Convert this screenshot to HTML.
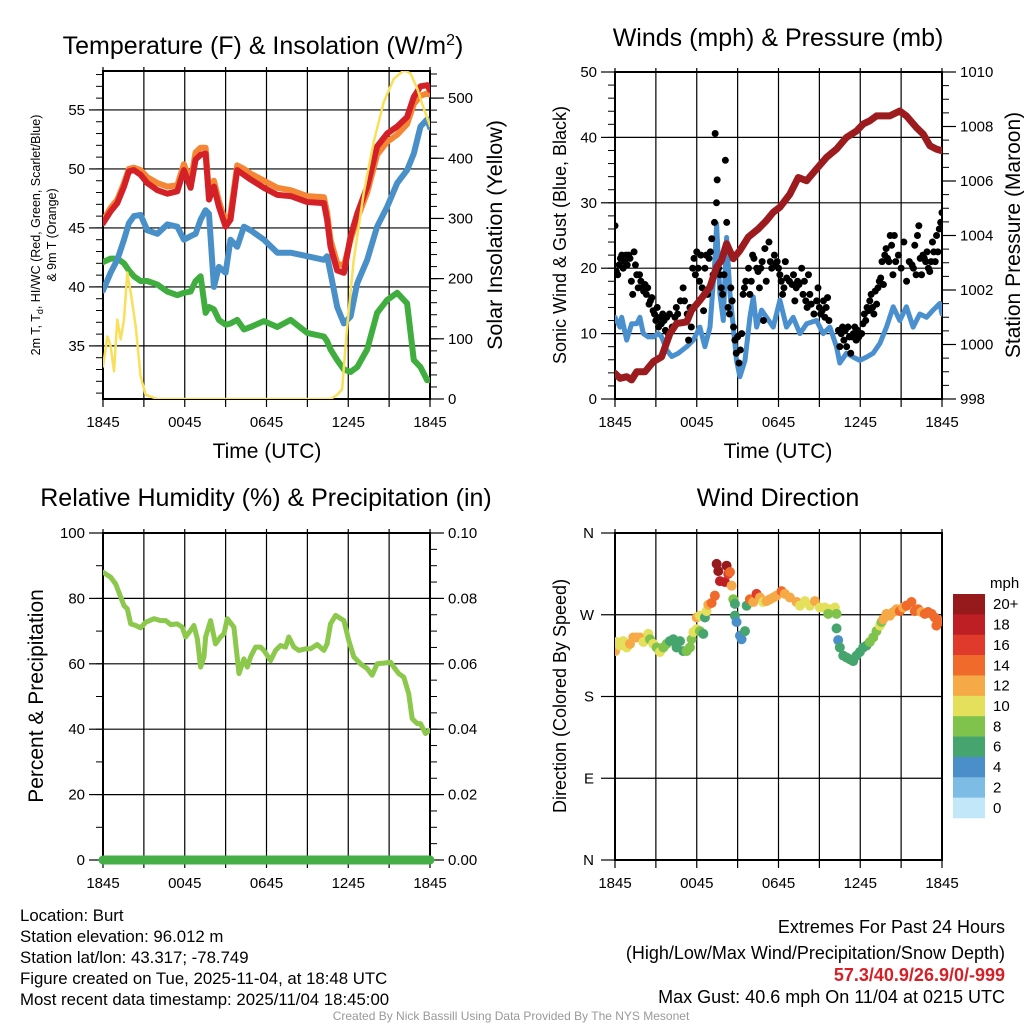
<!DOCTYPE html>
<html><head><meta charset="utf-8"><style>
html,body{margin:0;padding:0;background:#fff;}
svg{display:block;font-family:"Liberation Sans",sans-serif;}
</style></head><body>
<svg id="fig" width="1024" height="1024" viewBox="0 0 1024 1024" xmlns="http://www.w3.org/2000/svg">
<rect width="1024" height="1024" fill="#fff"/>
</svg>
<script>
// ---------- DATA ----------
const xTickLabels = ['1845','0045','0645','1245','1845'];
// Panel 1: temperature
const tHours = [0,0.56,1.05,1.54,1.9,2.27,2.76,3.25,3.99,4.72,5.45,5.94,6.43,6.8,7.16,7.53,7.78,8.14,8.51,9.0,9.36,9.85,10.34,10.83,11.81,12.79,13.77,14.99,16.21,16.45,16.7,17.19,17.68,18.17,18.66,19.39,20.12,20.86,21.59,22.32,22.81,23.3,23.79,24];
const redT = [45.4,46.4,47.1,48.5,49.8,49.9,49.5,48.8,48.2,47.9,48.1,49.9,48.4,50.8,51.2,51.3,47.4,48.5,46.8,45.1,45.7,49.9,49.5,49.1,48.4,47.8,47.7,47.2,47.1,45.7,43.4,41.4,41.2,44.3,46.2,48.5,51.9,53.0,53.6,54.4,56.1,57.0,57.1,56.7];
const orangeT = [45.6,46.7,47.4,48.8,50.0,50.1,49.9,49.3,48.8,48.5,48.6,50.4,48.9,51.4,51.8,51.8,47.9,49.0,47.3,45.4,46.2,50.3,50.0,49.6,49.0,48.4,48.2,47.7,47.6,46.3,44.0,42.0,41.8,44.0,45.8,48.0,51.2,52.3,52.9,53.8,55.5,56.2,56.4,56.3];
const blueTd = [39.7,41.2,42.3,44.0,45.4,46.0,46.1,44.8,44.5,45.3,45.1,44.0,44.3,44.5,45.7,46.5,46.2,40.0,41.7,41.2,44.0,43.4,45.1,44.8,44.0,42.9,42.9,42.6,42.3,42.6,41.2,38.3,36.9,37.5,40.3,42.3,45.1,46.8,48.8,49.9,51.3,53.6,54.2,53.5];
const greenHI = [42.1,42.4,42.4,42.0,41.4,40.9,40.5,40.5,40.2,39.6,39.3,39.5,39.6,40.5,40.9,37.8,38.3,38.1,37.2,36.8,36.9,37.2,36.4,36.6,37.1,36.6,37.2,36.1,35.8,35.4,34.7,33.8,33.0,32.8,33.2,34.7,37.8,38.9,39.5,38.6,33.8,33.2,32.1,32.1];
const solarHours = [0,0.32,0.56,0.81,1.05,1.3,1.54,1.78,2.03,2.4,2.76,3.13,3.99,16.7,17.19,17.55,17.92,18.41,19.14,19.87,20.6,21.34,22.08,22.57,23.06,23.55,24];
const solarW = [54,104,88,46,132,99,132,210,177,121,38,7,0,0,7,16,121,232,343,427,493,532,546,541,516,482,454];
// Panel 2: wind & pressure
const pHours = [0,0.37,0.86,1.22,1.59,2.2,2.81,3.42,4.03,4.52,5.26,5.62,6.23,6.97,7.46,7.82,8.19,8.68,9.17,9.78,10.51,11.12,11.61,12.1,12.84,13.45,14.06,14.79,15.53,16.26,16.99,17.73,18.22,18.7,19.19,20.17,20.9,21.39,22.13,22.62,23.11,23.59,24];
const pressureMb = [998.94,998.76,998.82,998.70,999.0,999.0,999.37,999.55,1000.4,1000.77,1000.83,1001.26,1001.62,1002.11,1002.84,1003.09,1003.7,1003.15,1003.45,1003.94,1004.24,1004.55,1004.85,1005.04,1005.52,1006.13,1006.01,1006.44,1006.87,1007.17,1007.6,1007.84,1008.09,1008.21,1008.39,1008.39,1008.57,1008.39,1007.96,1007.72,1007.29,1007.17,1007.11];
const wHours = [0,0.37,0.49,0.86,1.22,1.59,1.83,2.08,2.44,2.81,3.18,3.42,3.79,4.16,4.65,5.26,5.75,6.23,6.6,6.97,7.33,7.46,7.7,7.95,8.19,8.44,8.68,8.92,9.17,9.54,9.9,10.15,10.39,10.76,11.12,11.61,12.1,12.59,13.08,13.57,14.06,14.79,15.28,15.77,16.26,16.5,16.99,17.48,17.97,18.46,18.95,19.44,19.93,20.42,20.9,21.39,21.88,22.37,22.86,23.35,23.84,24];
const windMph = [12.5,11.0,12.5,9.0,11.5,11.5,12.5,10.0,9.5,9.5,10.0,9.5,7.5,6.5,7.0,8.0,9.0,11.0,8.0,11.0,21.2,26.8,16.1,12.0,24.7,16.1,11.0,5.9,3.4,5.9,12.5,15.6,11.0,13.6,12.5,11.0,15.1,11.0,12.5,10.0,11.5,12.0,10.0,11.0,8.0,5.5,7.0,6.4,5.9,6.4,7.0,8.5,11.0,14.1,12.0,14.1,11.0,13.0,12.5,13.6,14.6,13.0];
const gustHours = [0,0.1,0.2,0.3,0.4,0.5,0.6,0.7,0.8,0.9,1.0,1.1,1.2,1.3,1.4,1.5,1.6,1.7,1.8,1.9,2.0,2.1,2.2,2.3,2.4,2.5,2.6,2.7,2.8,2.9,3.0,3.1,3.2,3.3,3.4,3.5,3.6,3.7,3.8,3.9,4.0,4.2,4.4,4.5,4.6,4.8,5.0,5.1,5.3,5.4,5.5,5.6,5.7,5.8,5.9,6.0,6.1,6.2,6.3,6.4,6.5,6.6,6.7,6.8,6.9,7.0,7.1,7.2,7.3,7.35,7.45,7.5,7.6,7.7,7.8,7.9,8.0,8.1,8.2,8.3,8.4,8.5,8.6,8.7,8.8,8.9,9.0,9.1,9.2,9.3,9.4,9.5,9.6,9.8,9.9,10.0,10.1,10.2,10.4,10.5,10.6,10.7,10.8,10.9,11.0,11.1,11.3,11.4,11.5,11.7,11.8,11.9,12.0,12.1,12.2,12.3,12.4,12.5,12.6,12.8,13.0,13.1,13.2,13.3,13.4,13.5,13.7,13.8,13.9,14.0,14.1,14.2,14.3,14.4,14.6,14.8,14.9,15.0,15.1,15.2,15.3,15.4,15.5,15.6,15.7,16.4,16.5,16.6,16.7,16.8,16.9,17.0,17.1,17.2,17.3,17.4,17.5,17.6,17.7,17.8,17.9,18.0,18.1,18.2,18.3,18.4,18.5,18.6,18.7,18.8,18.9,19.0,19.1,19.2,19.3,19.4,19.5,19.6,19.7,19.8,19.9,20.0,20.1,20.2,20.3,20.4,20.5,20.6,20.8,21.0,21.2,21.4,21.6,21.8,21.9,22.0,22.1,22.2,22.3,22.4,22.5,22.6,22.7,22.8,22.9,23.0,23.1,23.2,23.3,23.4,23.5,23.6,23.7,23.8,23.9,24.0];
const gustMph = [26.5,19.5,19,20.5,21.5,22,20,21,22,20.5,22,21.5,18,16,22.5,20.5,19,17,19,18,17,16.5,17.5,16,17,14.5,15,15.5,13.5,13,12,14,11,12.5,11.5,13,12,10.5,12.5,10,13,11,12.5,14,13,15,17,15,13,9,14,11,20,21.5,19,22.5,20,18,22,17,13.5,20,22,16,21.5,22.5,24.5,19,27,40.6,30,33.5,20,19,17,16,19,36.5,27,14,13,17,15,11,9,7,9.5,5.5,7.5,10,16,17,18,20,16,18,22,21.5,20,19.5,17,20,21,12,23,18,24,21,20,22,20.5,21,20,19,18,16,17,21,18.5,18,17.5,19,15,17,18,17.5,20,16,18,15,14,19,16,14.5,13,15,17,14,13,13.5,15,12.5,14,15.5,12,10.5,8,10,11,9,10.5,8,11,9.5,7,9.5,10,11,9,10.5,9.5,10,10,11.5,13,12,14,13.5,15,16,14,13,16.5,14.5,17,18,18.5,21,17.5,22,23,21.5,21,25,23.5,19,25,21,22,20,24,18,21,20.5,20,23.5,19,25,26.5,21.5,19,22,21.5,21,22.5,20,19.5,21,24,22.5,21,25,22.5,26,27,28.5];
// Panel 3: RH & precip
const rhHours = [0,0.56,0.93,1.3,1.54,1.78,2.03,2.4,2.76,3.13,3.74,4.23,4.6,4.96,5.45,5.82,6.06,6.43,6.67,6.92,7.16,7.41,7.53,7.9,8.26,8.63,8.88,9.12,9.61,9.98,10.34,10.59,10.83,11.2,11.56,11.81,12.3,12.67,13.03,13.4,13.64,14.01,14.38,14.87,15.23,15.72,16.21,16.45,16.7,17.07,17.68,18.04,18.41,18.9,19.39,19.76,20.12,20.61,21.1,21.34,21.71,22.08,22.44,22.69,23.06,23.3,23.67,24];
const rhPct = [88.0,86.5,84.4,80.4,77.8,76.8,72.2,71.7,71.0,72.7,73.8,73.2,73.2,72.0,72.2,71.2,68.2,70.2,71.7,67.7,59.0,62.1,68.2,73.2,66.1,68.2,69.2,73.8,71.2,57.0,61.5,59.0,62.1,65.1,65.1,64.1,61.0,64.1,65.6,65.1,68.2,65.1,64.1,64.6,64.6,65.9,64.1,66.1,72.2,74.8,73.2,67.1,62.1,60.0,58.5,56.5,60.0,60.2,60.5,59.0,57.0,55.9,50.9,43.2,41.7,41.7,38.7,39.7];
const precipHours = [0,24];
const precipIn = [0,0];
// Panel 4: wind direction
const dirHours = [0,0.12,0.37,0.61,0.86,1.1,1.34,1.59,1.83,2.08,2.44,2.57,2.81,3.06,3.3,3.55,3.79,4.03,4.28,4.52,4.77,5.01,5.26,5.5,5.62,5.75,5.99,6.23,6.48,5.99,6.23,6.6,6.72,6.85,7.09,7.33,7.46,7.58,7.7,8.07,8.19,8.31,8.44,8.56,8.68,8.8,8.8,8.92,9.17,9.29,9.54,9.66,9.9,10.15,10.39,10.64,10.88,11.12,11.37,11.61,11.86,12.22,12.47,12.84,13.33,13.57,13.94,14.3,14.67,15.04,15.4,15.77,16.14,15.65,16.26,16.26,16.38,16.5,16.75,16.99,17.24,17.48,17.73,17.97,18.22,18.46,18.7,18.95,19.19,19.44,19.56,19.68,19.93,20.17,20.42,20.66,20.9,21.15,21.39,21.76,22.0,22.25,22.49,22.74,22.98,23.23,23.47,23.59,23.84];
const dirDeg = [230,240,236,241,234,238,245,245,245,240,249,243,238,234,229,234,238,241,243,234,241,230,230,234,243,251,254,252,249,267,269,267,274,281,283,291,326,318,307,306,324,315,317,302,287,282,269,262,247,243,252,280,287,284,293,289,284,285,287,289,291,296,293,289,284,280,285,280,285,278,278,276,278,271,271,255,242,234,225,223,221,219,225,229,234,236,240,245,252,258,262,265,271,269,273,276,274,278,280,284,274,276,273,271,273,271,267,258,263];
const dirSpeed = [12,11,10,10,10,12,13,12,13,11,10,8,10,9,10,8,8,7,6,6,6,7,8,8,9,10,10,9,7,12,10,6,11,13,14,14,20,20,19,18,20,17,15,12,8,6,6,4,4,4,6,7,14,12,16,12,10,12,12,13,13,15,13,12,12,11,10,11,13,11,10,10,10,8,8,6,4,6,6,6,6,6,6,6,7,6,8,8,8,10,8,12,12,13,13,13,14,13,14,15,14,15,13,14,15,14,14,15,14];
const cbLabels = ['20+','18','16','14','12','10','8','6','4','2','0'];
const cbColors = ['#961a1c','#bd1f25','#df3a2b','#ef6a2b','#f6a947','#e5e05c','#7fc24c','#46a56f','#4a8fc9','#7dbce5','#c2e7f8'];

// ---------- DRAWING ----------
const NS='http://www.w3.org/2000/svg';
const svg=document.getElementById('fig');
function mk(tag,attrs,parent){const e=document.createElementNS(NS,tag);for(const k in attrs)e.setAttribute(k,attrs[k]);(parent||svg).appendChild(e);return e;}
function txt(s,x,y,size,anchor,parent,extra){const e=mk('text',Object.assign({x:x,y:y,'font-size':size,'text-anchor':anchor||'middle',fill:'#000'},extra||{}),parent);e.textContent=s;return e;}
function lin(a,b,c0,c1){return v=>c0+(v-a)/(b-a)*(c1-c0);}
function speedColor(s){let i=Math.min(10,Math.floor(s/2));if(s>=20)i=10;return cbColors[10-i];}

const panels={
 p1:{L:103,R:430,T:71,B:399},p2:{L:615,R:942,T:72,B:399},
 p3:{L:103,R:430,T:533,B:860},p4:{L:615,R:942,T:533,B:860}};

function frame(p,id,hLines){
  const g=mk('g',{});
  
  
  const xs=lin(0,24,p.L,p.R);
  for(let h=0;h<=24;h+=3){const x=xs(h);mk('line',{x1:x,x2:x,y1:p.T-4,y2:p.B+8,stroke:'#000','stroke-width':1.2},g);}
  hLines.forEach(y=>mk('line',{x1:p.L,x2:p.R,y1:y,y2:y,stroke:'#000','stroke-width':1.2},g));
  mk('rect',{x:p.L,y:p.T,width:p.R-p.L,height:p.B-p.T,fill:'none',stroke:'#000','stroke-width':2},g);
  xTickLabels.forEach((s,i)=>{const t=txt(s,xs(i*6),p.B+28,15,'middle',g);
    
    });
  const cp=mk('clipPath',{id:'clip-'+id});mk('rect',{x:p.L,y:p.T,width:p.R-p.L,height:p.B-p.T},cp);
  return xs;
}
function yTicks(p,scale,vals,minor,side,fmt,g){
  const x=side==='l'?p.L:p.R, d=side==='l'?-1:1;
  minor.forEach(v=>{const y=scale(v);mk('line',{x1:x,x2:x+d*7,y1:y,y2:y,stroke:'#000','stroke-width':1},g);});
  vals.forEach(v=>{const y=scale(v);mk('line',{x1:x,x2:x+d*14,y1:y,y2:y,stroke:'#000','stroke-width':1.2},g);
    const t=txt(fmt(v),x+d*18,y+5,15,side==='l'?'end':'start',g);
    
    });
}
function poly(xsArr,ysArr,xs,ys,color,w,clip,name){
  const pts=xsArr.map((h,i)=>xs(h).toFixed(1)+','+ys(ysArr[i]).toFixed(1)).join(' ');
  const e=mk('polyline',{points:pts,fill:'none',stroke:color,'stroke-width':w,'stroke-linejoin':'round','stroke-linecap':'round'});
  if(clip)e.setAttribute('clip-path','url(#'+clip+')');
  
  
  return e;
}
function rangeArr(a,b,s){const r=[];for(let v=a;v<=b+1e-9;v+=s)r.push(+v.toFixed(4));return r;}

// Panel 1
{const p=panels.p1;const yl=lin(30.5,58.3,p.B,p.T), yr=lin(0,545,p.B,p.T);
 const xs=frame(p,'p1',[35,40,45,50,55].map(yl));
 const g=mk('g',{});
 yTicks(p,yl,[35,40,45,50,55],rangeArr(31,58,1),'l',v=>v,g);
 yTicks(p,yr,[0,100,200,300,400,500],rangeArr(0,540,20),'r',v=>v,g);
 poly(tHours,greenHI,xs,yl,'#3fae3f',6,'clip-p1','heat-index-line');
 poly(tHours,blueTd,xs,yl,'#4a90c8',6,'clip-p1','dewpoint-line');
 poly(tHours,orangeT,xs,yl,'#f58634',6,'clip-p1','temp-9m-line');
 poly(tHours,redT,xs,yl,'#d42027',6,'clip-p1','temp-2m-line');
 poly(solarHours,solarW,xs,yr,'#f8e05a',2.5,'clip-p1','solar-line');
 const t=txt('Temperature (F) & Insolation (W/m',263,54,25);
 const ts=mk('tspan',{dy:-9,'font-size':16},t);ts.textContent='2';
 const ts2=mk('tspan',{dy:9},t);ts2.textContent=')';
 const xl=txt('Time (UTC)',267,458,21);
 const yl1=txt('2m T, T',0,0,12.5,'middle',svg,{transform:'translate(40,235) rotate(-90)'});
 
 const sub=mk('tspan',{dy:3,'font-size':9},yl1);sub.textContent='d';
 const rest=mk('tspan',{dy:-3},yl1);rest.textContent=', HI/WC (Red, Green, Scarlet/Blue)';
 const yl2=txt('& 9m T (Orange)',0,0,12.5,'middle',svg,{transform:'translate(56,235) rotate(-90)'});
 
 const yr1=txt('Solar Insolation (Yellow)',0,0,21.5,'middle',svg,{transform:'translate(502,235) rotate(-90)'});
 
}

// Panel 2
{const p=panels.p2;const yl=lin(0,50,p.B,p.T), yr=lin(998,1010,p.B,p.T);
 const xs=frame(p,'p2',[10,20,30,40].map(yl));
 const g=mk('g',{});
 yTicks(p,yl,[0,10,20,30,40,50],rangeArr(0,50,2),'l',v=>v,g);
 yTicks(p,yr,[998,1000,1002,1004,1006,1008,1010],rangeArr(998,1010,0.5),'r',v=>v,g);
 poly(wHours,windMph,xs,yl,'#4a90cf',5,'clip-p2','sonic-wind-line');
 const dg=mk('g',{'clip-path':'url(#clip-p2)'});
 gustHours.forEach((h,i)=>{const c=mk('circle',{cx:xs(h),cy:yl(gustMph[i]),r:3.5,fill:'#000'},dg);
   
   });
 poly(pHours,pressureMb,xs,yr,'#9b1b1e',7,'clip-p2','pressure-line');
 const t=txt('Winds (mph) & Pressure (mb)',778,46,25);
 const xl=txt('Time (UTC)',778,458,21);
 const a=txt('Sonic Wind & Gust (Blue, Black)',0,0,18,'middle',svg,{transform:'translate(566,235) rotate(-90)'});
 
 const b=txt('Station Pressure (Maroon)',0,0,21,'middle',svg,{transform:'translate(1020,235) rotate(-90)'});
 
}
// Panel 3
{const p=panels.p3;const yl=lin(0,100,p.B,p.T), yr=lin(0,0.1,p.B,p.T);
 const xs=frame(p,'p3',[20,40,60,80].map(yl));
 const g=mk('g',{});
 yTicks(p,yl,[0,20,40,60,80,100],rangeArr(0,100,10),'l',v=>v,g);
 yTicks(p,yr,[0,0.02,0.04,0.06,0.08,0.1],rangeArr(0,0.1,0.005),'r',v=>v.toFixed(2),g);
 poly(rhHours,rhPct,xs,yl,'#8cc84b',5,'clip-p3','rh-line');
 poly(precipHours,precipIn,xs,yr,'#46ae46',9,null,'precip-line');
 const t=txt('Relative Humidity (%) & Precipitation (in)',266,506,25);
 const a=txt('Percent & Precipitation',0,0,21,'middle',svg,{transform:'translate(43,696) rotate(-90)'});
 
}
// Panel 4
{const p=panels.p4;const yl=lin(0,360,p.B,p.T);
 const xs=frame(p,'p4',[90,180,270].map(yl));
 const g=mk('g',{});
 const dl=['N','E','S','W','N'];
 [0,90,180,270,360].forEach((v,i)=>{const y=yl(v);mk('line',{x1:p.L,x2:p.L-14,y1:y,y2:y,stroke:'#000','stroke-width':1.2},g);
   const tt=txt(dl[i],p.L-21,y+5,15,'end',g);
   
   });
 const dg=mk('g',{'clip-path':'url(#clip-p4)'});
 dirHours.forEach((h,i)=>{const c=mk('circle',{cx:xs(h),cy:yl(dirDeg[i]),r:5,fill:speedColor(dirSpeed[i])},dg);
   
   });
 const t=txt('Wind Direction',778,506,25);
 const a=txt('Direction (Colored By Speed)',0,0,18,'middle',svg,{transform:'translate(566,696) rotate(-90)'});
 
 // colorbar
 const cb=mk('g',{});
 const bh=224/cbColors.length;
 cbColors.forEach((c,i)=>{mk('rect',{x:953,y:594+i*bh,width:32,height:bh+0.3,fill:c},cb);
   const tt=txt(cbLabels[i],993,594+i*bh+bh/2+5,15,'start',cb);
   
   });
 const u=txt('mph',990,588,15,'start',cb);
}
// Footer text
const info=['Location: Burt','Station elevation: 96.012 m','Station lat/lon: 43.317; -78.749','Figure created on Tue, 2025-11-04, at 18:48 UTC','Most recent data timestamp: 2025/11/04 18:45:00'];
info.forEach((s,i)=>{const t=txt(s,20,921+i*21,16.8,'start');});
const ex=[['Extremes For Past 24 Hours','#000',''],['(High/Low/Max Wind/Precipitation/Snow Depth)','#000',''],['57.3/40.9/26.9/0/-999','#d42027','bold'],['Max Gust: 40.6 mph On 11/04 at 0215 UTC','#000','']];
const exY=[933,959,981,1003];
ex.forEach((r,i)=>{const t=txt(r[0],1005,exY[i],18,'end',svg,{fill:r[1],'font-weight':r[2]||'normal'});});
const cr=txt('Created By Nick Bassill Using Data Provided By The NYS Mesonet',511,1020,12,'middle',svg,{fill:'#999'});

</script>
</body></html>
